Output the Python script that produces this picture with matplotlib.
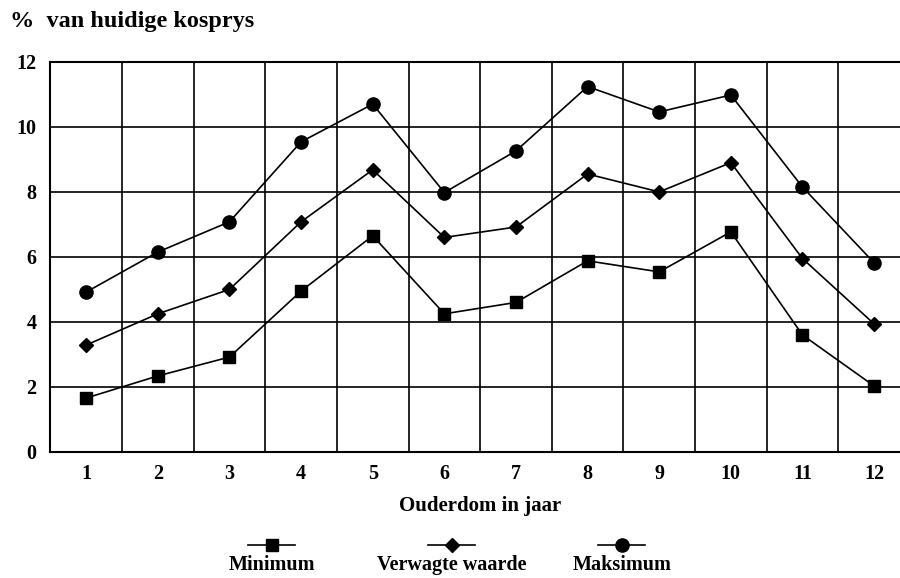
import matplotlib.pyplot as plt
from matplotlib.lines import Line2D
import numpy as np

plt.rcParams['font.family'] = ['Liberation Serif', 'DejaVu Serif']
plt.rcParams['font.weight'] = 'bold'

years = [1, 2, 3, 4, 5, 6, 7, 8, 9, 10, 11, 12]
minimum = [1.66, 2.34, 2.92, 4.95, 6.65, 4.25, 4.6, 5.88, 5.54, 6.77, 3.6, 2.03]
verwagte = [3.29, 4.25, 5.0, 7.08, 8.68, 6.6, 6.92, 8.55, 8.0, 8.9, 5.95, 3.94]
maksimum = [4.92, 6.15, 7.08, 9.54, 10.7, 7.98, 9.26, 11.24, 10.46, 10.98, 8.15, 5.82]
labels = ['Minimum', 'Verwagte waarde', 'Maksimum']
markers = ['s', 'D', 'o']
sizes = [9, 7.5, 9.5]

fig = plt.figure(figsize=(9, 5.78), dpi=100)
ax = fig.add_axes([0.056, 0.218, 0.955, 0.675])

for vals, m, s in zip([minimum, verwagte, maksimum], markers, sizes):
    ax.plot(years, vals, color='black', lw=1.2, marker=m, ms=s,
            markerfacecolor='black', markeredgecolor='black', clip_on=False, zorder=3)

ax.set_xlim(0.5, 12.5)
ax.set_ylim(0, 12)
ax.set_xticks(years)
ax.set_xticks(np.arange(1.5, 12, 1), minor=True)
ax.set_yticks(range(0, 13, 2))
ax.grid(True, which='minor', axis='x', color='black', lw=1.2)
ax.grid(True, which='major', axis='y', color='black', lw=1.2)
ax.tick_params(which='both', length=0, labelsize=14.5)
ax.tick_params(axis='x', pad=9)
ax.tick_params(axis='y', pad=10)
for sp in ax.spines.values():
    sp.set_linewidth(1.5)

ax.set_xlabel('Ouderdom in jaar', fontsize=15, fontweight='bold', labelpad=8)
fig.text(0.011, 0.962, '%  van huidige kosprys', fontsize=17.5, fontweight='bold',
         ha='left', va='center')

# legend: sample above the label
legend_x = [0.302, 0.502, 0.691]
for x, lab, m, s in zip(legend_x, labels, markers, sizes):
    fig.add_artist(Line2D([x - 0.026, x + 0.026], [0.057, 0.057], color='black', lw=1.2,
                          transform=fig.transFigure))
    fig.add_artist(Line2D([x], [0.057], color='black', marker=m, ms=s,
                          transform=fig.transFigure))
    fig.text(x, 0.022, lab, fontsize=14.5, fontweight='bold', ha='center', va='center')

fig.savefig('out.png', dpi=100)
